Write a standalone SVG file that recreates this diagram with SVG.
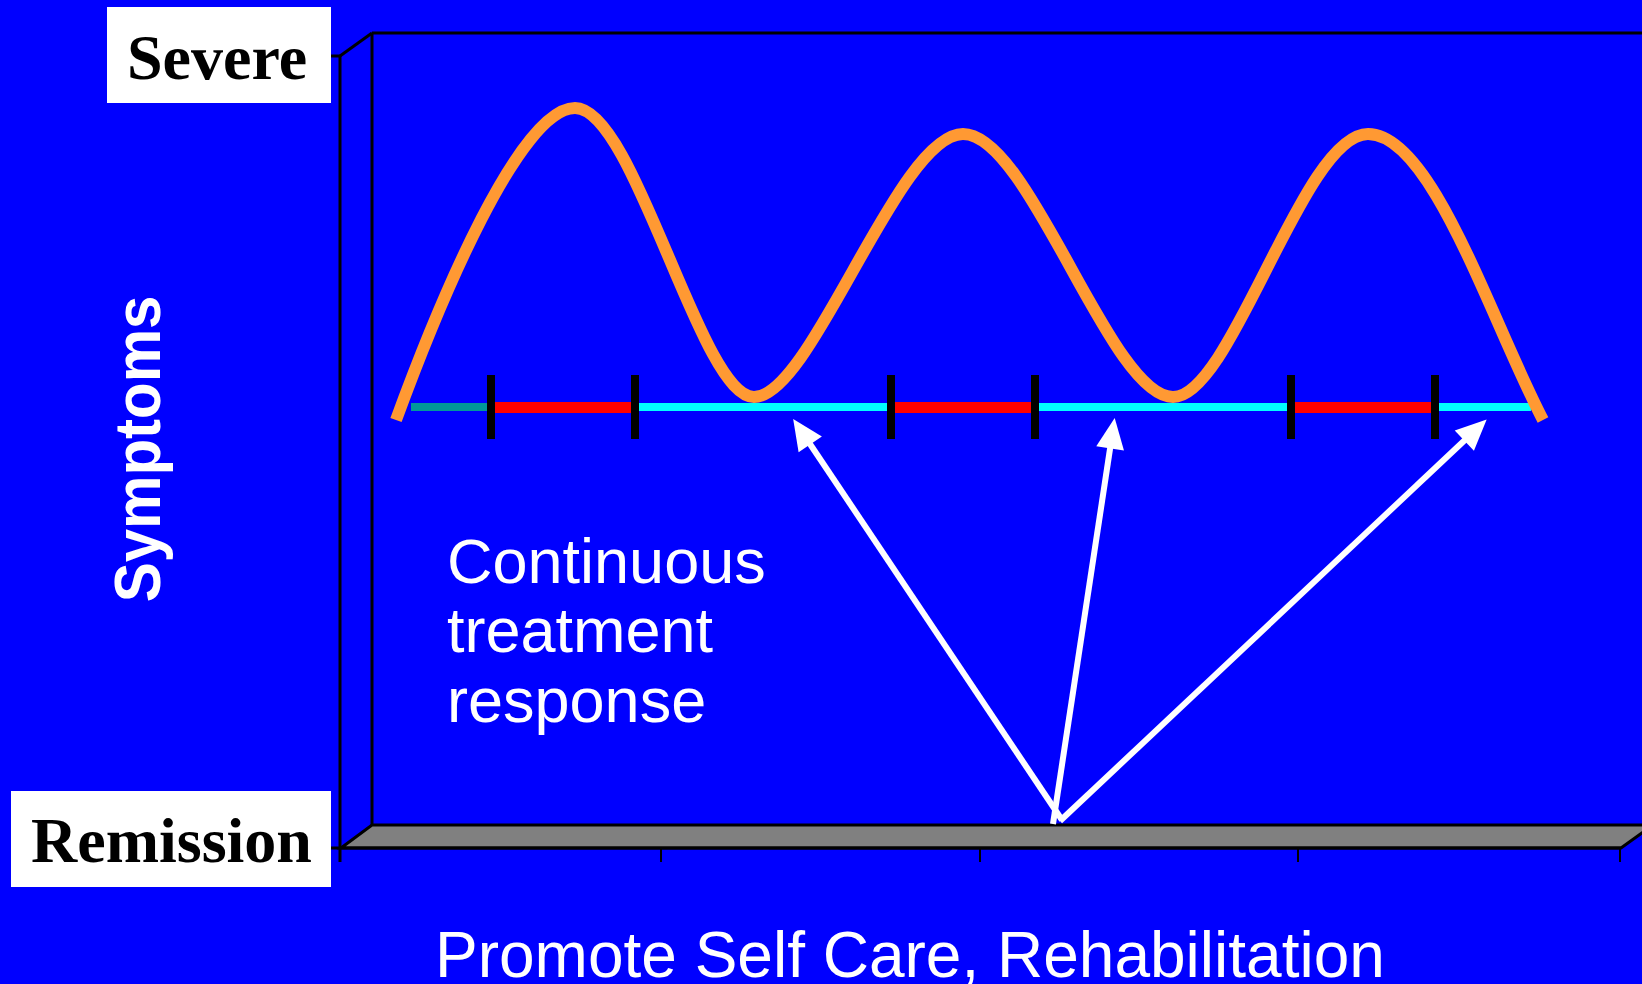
<svg xmlns="http://www.w3.org/2000/svg" width="1642" height="984" viewBox="0 0 1642 984">
  <defs>
    <style>
      .axis { stroke: #000000; stroke-width: 3; fill: none; }
      .tick { stroke: #000000; stroke-width: 2; fill: none; }
      .label-box { fill: #FFFFFF; }
      .label-serif { font-family: "Liberation Serif", "Times New Roman", serif; font-weight: bold; font-size: 64px; fill: #000000; }
      .white-text { font-family: "Liberation Sans", Arial, sans-serif; fill: #FFFFFF; }
      .seg-tick { stroke: #000000; stroke-width: 8; }
      .arrow { stroke: #FFFFFF; stroke-width: 6; fill: none; marker-end: url(#head); }
    </style>
    <marker id="head" markerUnits="userSpaceOnUse" orient="auto" markerWidth="40" markerHeight="40" refX="0" refY="0" viewBox="-10 -15 30 30" overflow="visible">
      <path d="M15,0 L-8,-10.5 L-8,10.5 Z" fill="#FFFFFF"/>
    </marker>
  </defs>

  <rect x="0" y="0" width="1642" height="984" fill="#0000FF"/>

  <g id="chart-frame">
    <line class="axis" x1="372" y1="33" x2="1642" y2="33"/>
    <line class="axis" x1="372" y1="33" x2="372" y2="825"/>
    <line class="axis" x1="340" y1="56" x2="372" y2="33"/>
    <line class="axis" x1="331" y1="56" x2="340" y2="56"/>
    <line class="axis" x1="340" y1="56" x2="340" y2="862"/>
    <polygon points="341,848 372,825 1653,825 1621,848" fill="#808080" stroke="#000000" stroke-width="3"/>
    <line class="axis" x1="331" y1="848" x2="1621" y2="848"/>
    <line class="tick" x1="661" y1="848" x2="661" y2="862"/>
    <line class="tick" x1="980" y1="848" x2="980" y2="862"/>
    <line class="tick" x1="1298" y1="848" x2="1298" y2="862"/>
    <line class="tick" x1="1620" y1="848" x2="1620" y2="862"/>
  </g>

  <g id="label-severe">
    <rect class="label-box" x="107" y="7" width="224" height="96"/>
    <text class="label-serif" x="127" y="79">Severe</text>
  </g>

  <g id="label-remission">
    <rect class="label-box" x="11" y="791" width="320" height="96"/>
    <text class="label-serif" x="31" y="862">Remission</text>
  </g>

  <g id="label-symptoms">
    <text class="white-text" font-weight="bold" font-size="60" text-anchor="middle" transform="translate(160,449) rotate(-90) scale(1,1.08)">Symptoms</text>
  </g>

  <g id="timeline">
    <line x1="411" y1="407" x2="487" y2="407" stroke="#009999" stroke-width="8"/>
    <line x1="487" y1="407" x2="1531" y2="407" stroke="#00FFFF" stroke-width="8"/>
    <line x1="495" y1="407.5" x2="631" y2="407.5" stroke="#FF0000" stroke-width="11"/>
    <line x1="895" y1="407.5" x2="1031" y2="407.5" stroke="#FF0000" stroke-width="11"/>
    <line x1="1295" y1="407.5" x2="1431" y2="407.5" stroke="#FF0000" stroke-width="11"/>
    <line class="seg-tick" x1="491" y1="375" x2="491" y2="439"/>
    <line class="seg-tick" x1="635" y1="375" x2="635" y2="439"/>
    <line class="seg-tick" x1="891" y1="375" x2="891" y2="439"/>
    <line class="seg-tick" x1="1035" y1="375" x2="1035" y2="439"/>
    <line class="seg-tick" x1="1291" y1="375" x2="1291" y2="439"/>
    <line class="seg-tick" x1="1435" y1="375" x2="1435" y2="439"/>
  </g>

  <g id="symptom-curve">
    <path d="M396,420 C440,300 520,108 575,108 C635,108 700,397 754,397 C812,397 898,134 963,134 C1030,134 1110,397 1173,397 C1232,397 1303,134 1368,134 C1432,134 1490,318 1543,420" fill="none" stroke="#FF9933" stroke-width="12"/>
  </g>

  <g id="label-continuous">
    <text class="white-text" font-size="63">
      <tspan x="447" y="583">Continuous</tspan>
      <tspan x="447" y="652">treatment</tspan>
      <tspan x="447" y="722">response</tspan>
    </text>
  </g>

  <g id="connectors">
    <line class="arrow" x1="1062" y1="820" x2="804.3" y2="435.5"/>
    <line class="arrow" x1="1053" y1="824" x2="1111.7" y2="437.8"/>
    <line class="arrow" x1="1060" y1="821" x2="1472.1" y2="433.3"/>
  </g>

  <g id="label-x-axis">
    <text class="white-text" font-size="64" x="435" y="977">Promote Self Care, Rehabilitation</text>
  </g>
</svg>
